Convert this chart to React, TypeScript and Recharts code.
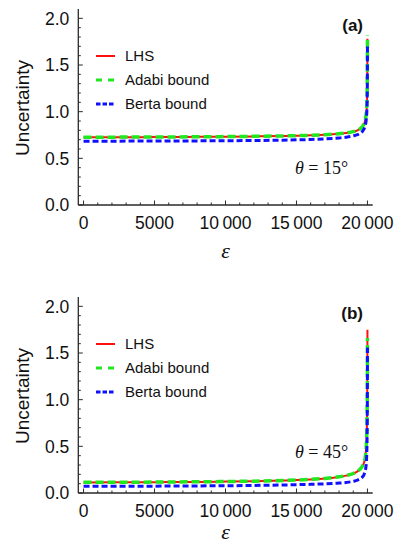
import React from 'react';
import { LineChart, Line, XAxis, YAxis, Legend, Label } from 'recharts';

// ---------- data ----------
const epsilon = [0, 2000, 4000, 6000, 8000, 10000, 12000, 14000, 15000, 16000, 17000, 18000, 18500, 19000, 19300, 19500, 19650, 19750, 19830, 19880, 19920, 19950, 19970, 19985, 19995, 20000];

const lhsA = [0.725, 0.726, 0.727, 0.728, 0.73, 0.732, 0.735, 0.739, 0.742, 0.746, 0.752, 0.763, 0.771, 0.785, 0.8, 0.818, 0.84, 0.865, 0.9, 0.935, 0.98, 1.04, 1.12, 1.26, 1.48, 1.78];
const adabiA = [0.726, 0.727, 0.728, 0.729, 0.731, 0.733, 0.736, 0.74, 0.743, 0.747, 0.753, 0.764, 0.772, 0.786, 0.801, 0.819, 0.842, 0.868, 0.905, 0.94, 0.99, 1.05, 1.14, 1.29, 1.52, 1.82];
const bertaA = [0.683, 0.684, 0.685, 0.686, 0.687, 0.689, 0.691, 0.695, 0.698, 0.702, 0.708, 0.718, 0.726, 0.74, 0.754, 0.77, 0.79, 0.812, 0.845, 0.875, 0.92, 0.98, 1.06, 1.2, 1.42, 1.7];

const lhsB = [0.113, 0.114, 0.115, 0.117, 0.119, 0.122, 0.126, 0.133, 0.138, 0.145, 0.155, 0.172, 0.186, 0.208, 0.232, 0.258, 0.288, 0.322, 0.37, 0.425, 0.51, 0.63, 0.8, 1.06, 1.38, 1.75];
const adabiB = [0.114, 0.115, 0.116, 0.118, 0.12, 0.123, 0.127, 0.134, 0.139, 0.146, 0.156, 0.173, 0.187, 0.209, 0.233, 0.259, 0.289, 0.323, 0.37, 0.425, 0.505, 0.62, 0.78, 1.02, 1.3, 1.66];
const bertaB = [0.071, 0.072, 0.073, 0.074, 0.076, 0.078, 0.081, 0.086, 0.089, 0.093, 0.098, 0.106, 0.113, 0.125, 0.138, 0.154, 0.172, 0.195, 0.228, 0.265, 0.32, 0.41, 0.54, 0.78, 1.12, 1.56];

const seriesNames = ['LHS', 'Adabi bound', 'Berta bound'];
const seriesColors = ['#ff1010', '#1ee81e', '#1010ff'];

const xMajorTicks = [0, 5000, 10000, 15000, 20000];
const xMajorLabels = ['0', '5000', '10\u2009000', '15\u2009000', '20\u2009000'];
const xMinorTicks = [1000, 2000, 3000, 4000, 6000, 7000, 8000, 9000, 11000, 12000, 13000, 14000, 16000, 17000, 18000, 19000];
const yMajorTicks = [0, 0.5, 1, 1.5, 2];
const yMajorLabels = ['0.0', '0.5', '1.0', '1.5', '2.0'];
const yMinorTicks = [0.1, 0.2, 0.3, 0.4, 0.6, 0.7, 0.8, 0.9, 1.1, 1.2, 1.3, 1.4, 1.6, 1.7, 1.8, 1.9];

const panelLabels = ['(a)', '(b)'];
const thetaValues = ['15', '45'];

// ---------- styling ----------
const FRAME = '#2a2a2a';
const SANS = '"Liberation Sans", Arial, sans-serif';
const SERIF = '"Liberation Serif", "Times New Roman", serif';
const TICK_FONT = 17.5;

const xTicks = [...xMajorTicks, ...xMinorTicks].sort((a, b) => a - b);
const yTicks = [...yMajorTicks, ...yMinorTicks].sort((a, b) => a - b);

const findIdx = (arr: number[], v: number) => arr.findIndex((t) => Math.abs(t - v) < 1e-9);

const makeXTick = (side: 'top' | 'bottom') => (props: any) => {
  const { x, y, payload } = props;
  const idx = findIdx(xMajorTicks, payload.value);
  const major = idx >= 0;
  const len = major ? 4.5 : 2.5;
  const dir = side === 'bottom' ? -1 : 1;
  return (
    <g>
      <line x1={x} y1={y} x2={x} y2={y + dir * len} stroke={FRAME} strokeWidth={1} />
      {side === 'bottom' && major && (
        <text x={x} y={y + 24} textAnchor="middle" fontFamily={SANS} fontSize={TICK_FONT} fill="#111">
          {xMajorLabels[idx]}
        </text>
      )}
    </g>
  );
};

const makeYTick = (side: 'left' | 'right') => (props: any) => {
  const { x, y, payload } = props;
  const idx = findIdx(yMajorTicks, payload.value);
  const major = idx >= 0;
  const len = major ? 4.5 : 2.5;
  const dir = side === 'left' ? 1 : -1;
  return (
    <g>
      <line x1={x} y1={y} x2={x + dir * len} y2={y} stroke={FRAME} strokeWidth={1} />
      {side === 'left' && major && (
        <text x={x - 9} y={y + 6.3} textAnchor="end" fontFamily={SANS} fontSize={TICK_FONT} fill="#111">
          {yMajorLabels[idx]}
        </text>
      )}
    </g>
  );
};

const LegendBox = () => {
  const dashes = [undefined, '6 6', '4.5 2'];
  const widths = [2, 3.2, 3];
  return (
    <svg width={170} height={72} style={{ overflow: 'visible' }}>
      {seriesNames.map((n, i) => (
        <g key={n}>
          <line x1={6} x2={25} y1={16 + i * 24} y2={16 + i * 24} stroke={seriesColors[i]} strokeWidth={widths[i]} strokeDasharray={dashes[i]} />
          <text x={35} y={21.3 + i * 24} fontFamily={SANS} fontSize={15} fill="#111">{n}</text>
        </g>
      ))}
    </svg>
  );
};

type PanelProps = {
  top: number;
  height: number;
  lhs: number[];
  adabi: number[];
  berta: number[];
  label: string;
  theta: string;
  thetaY: number;
  epsOffset: number;
};

const Panel = ({ top, height, lhs, adabi, berta, label, theta, thetaY, epsOffset }: PanelProps) => {
  const rows = epsilon.map((e, i) => ({ eps: e, lhs: lhs[i], adabi: adabi[i], berta: berta[i] }));
  const plotBottom = 205;
  const xAxisHeight = height - plotBottom;
  return (
    <div style={{ position: 'absolute', left: 0, top, width: 395, height }}>
      <LineChart width={395} height={height} data={rows} margin={{ top: 9, right: 22.3, left: 0, bottom: 0 }}>
        <XAxis
          dataKey="eps"
          type="number"
          domain={[-370, 20370]}
          allowDataOverflow
          ticks={xTicks}
          interval={0}
          tickSize={0}
          tickMargin={0}
          tickLine={false}
          height={xAxisHeight}
          axisLine={{ stroke: FRAME, strokeWidth: 1.3 }}
          tick={makeXTick('bottom')}
        >
          <Label
            content={(p: any) => {
              const vb = p.viewBox;
              return (
                <text x={vb.x + vb.width / 2} y={vb.y + epsOffset} textAnchor="middle" fontFamily={SERIF} fontStyle="italic" fontSize={22} fill="#111">
                  ε
                </text>
              );
            }}
          />
        </XAxis>
        <XAxis
          xAxisId="top"
          orientation="top"
          dataKey="eps"
          type="number"
          domain={[-370, 20370]}
          allowDataOverflow
          ticks={xTicks}
          interval={0}
          tickSize={0}
          tickMargin={0}
          tickLine={false}
          height={0}
          axisLine={{ stroke: FRAME, strokeWidth: 1.3 }}
          tick={makeXTick('top')}
        />
        <YAxis
          type="number"
          domain={[0, 2.1]}
          allowDataOverflow
          ticks={yTicks}
          interval={0}
          tickSize={0}
          tickMargin={0}
          tickLine={false}
          width={78.3}
          axisLine={{ stroke: FRAME, strokeWidth: 1.3 }}
          tick={makeYTick('left')}
        >
          <Label
            content={(p: any) => {
              const vb = p.viewBox;
              const cx = 22;
              const cy = vb.y + vb.height / 2 + 1;
              return (
                <text x={cx} y={cy} transform={`rotate(-90, ${cx}, ${cy})`} textAnchor="middle" dominantBaseline="central" fontFamily={SANS} fontSize={19} fill="#111">
                  Uncertainty
                </text>
              );
            }}
          />
        </YAxis>
        <YAxis
          yAxisId="right"
          orientation="right"
          type="number"
          domain={[0, 2.1]}
          allowDataOverflow
          ticks={yTicks}
          interval={0}
          tickSize={0}
          tickMargin={0}
          tickLine={false}
          width={0}
          axisLine={{ stroke: FRAME, strokeWidth: 1.3 }}
          tick={makeYTick('right')}
        />
        <Legend
          layout="vertical"
          align="center"
          verticalAlign="middle"
          content={() => <LegendBox />}
          wrapperStyle={{ position: 'absolute', left: 90, top: 40, width: 170, height: 72 }}
        />
        <Line type="monotone" dataKey="lhs" name={seriesNames[0]} stroke={seriesColors[0]} strokeWidth={2} dot={false} isAnimationActive={false} />
        <Line type="monotone" dataKey="adabi" name={seriesNames[1]} stroke={seriesColors[1]} strokeWidth={3.5} strokeDasharray="8 4" dot={false} isAnimationActive={false} />
        <Line type="monotone" dataKey="berta" name={seriesNames[2]} stroke={seriesColors[2]} strokeWidth={3} strokeDasharray="6 3" dot={false} isAnimationActive={false} />
        <text x={363} y={30.5} textAnchor="end" fontFamily={SANS} fontWeight="bold" fontSize={17} fill="#111">
          {label}
        </text>
        <text x={295} y={thetaY} fontFamily={SERIF} fontSize={18} fill="#111">
          <tspan fontStyle="italic">θ</tspan>
          <tspan> = {theta}°</tspan>
        </text>
      </LineChart>
    </div>
  );
};

export default function App() {
  return (
    <div style={{ position: 'absolute', left: 0, top: 0, width: 395, height: 545, background: '#fff', overflow: 'hidden' }}>
      <Panel top={0} height={270} lhs={lhsA} adabi={adabiA} berta={bertaA} label={panelLabels[0]} theta={thetaValues[0]} thetaY={174} epsOffset={53} />
      <Panel top={288} height={257} lhs={lhsB} adabi={adabiB} berta={bertaB} label={panelLabels[1]} theta={thetaValues[1]} thetaY={170} epsOffset={46} />
    </div>
  );
}
